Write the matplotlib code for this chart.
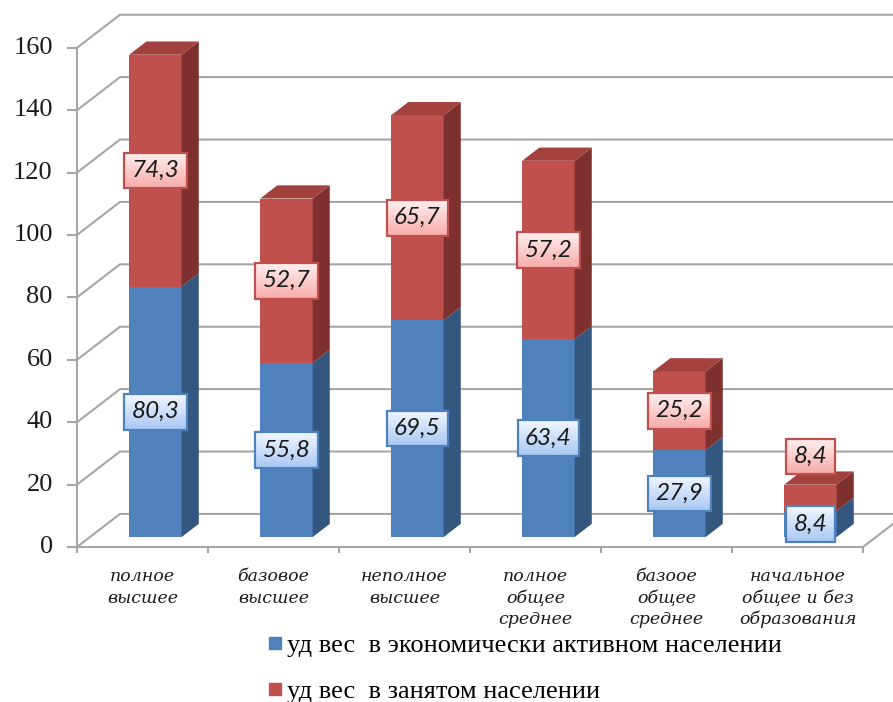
import numpy as np
import matplotlib
matplotlib.use("Agg")
import matplotlib.pyplot as plt
from matplotlib.patches import Polygon
from matplotlib.lines import Line2D
from matplotlib.colors import LinearSegmentedColormap

categories = [
    "полное\nвысшее",
    "базовое\nвысшее",
    "неполное\nвысшее",
    "полное\nобщее\nсреднее",
    "базоое\nобщее\nсреднее",
    "начальное\nобщее и без\nобразования",
]
active = [80.3, 55.8, 69.5, 63.4, 27.9, 8.4]      # уд вес в экономически активном населении
employed = [74.3, 52.7, 65.7, 57.2, 25.2, 8.4]    # уд вес в занятом населении
series_names = ["уд вес  в экономически активном населении",
                "уд вес  в занятом населении"]
yticks = [0, 20, 40, 60, 80, 100, 120, 140, 160]

SERIF = ["Liberation Serif", "Times New Roman", "DejaVu Serif"]

# pseudo-3d geometry (x in category units, y in value units)
DX, DY = 0.328, 10.6          # full depth of the floor / side wall
F0, F1 = 0.3, 0.7             # bar front / back depth fraction
BW = 0.4                      # bar width

blue, blue_side = "#4F81BD", "#34577F"
red, red_side, red_top = "#C0504D", "#7D302E", "#A3413E"
grid_c = "#A6A6A6"

fig = plt.figure(figsize=(8.93, 7.02), dpi=100)
ax = fig.add_axes([0, 0, 1, 1])
x0, x1 = -77 / 131, (893 - 77) / 131
y0, y1 = (547 - 702) / 3.12, 547 / 3.12
ax.set_xlim(x0, x1)
ax.set_ylim(y0, y1)
ax.axis("off")

n = len(categories)

# walls and gridlines
for v in yticks:
    ax.plot([0, DX, x1], [v, v + DY, v + DY], color=grid_c, lw=1.5, zorder=1)
    ax.plot([-0.065, 0], [v, v], color=grid_c, lw=1.5, zorder=1)
    ax.text(-0.185, v, str(v), ha="right", va="center",
            fontsize=19, family=SERIF, color="#1a1a1a")
ax.plot([0, 0], [0, 160], color=grid_c, lw=1.5, zorder=1)
# floor front edge, right edge and category ticks
ax.plot([0, n, n + DX], [0, 0, DY], color=grid_c, lw=1.5, zorder=1)
for i in range(n + 1):
    ax.plot([i, i], [0, -1.7], color=grid_c, lw=1.5, zorder=1)

xc = np.arange(n) + 0.5
xf = xc + F0 * DX
base = F0 * DY
dx_b, dy_b = (F1 - F0) * DX, (F1 - F0) * DY

ax.bar(xf, active, BW, bottom=base, color=blue, zorder=3)
ax.bar(xf, employed, BW, bottom=base + np.array(active), color=red, zorder=3)

for i in range(n):
    xr = xf[i] + BW / 2
    xl = xf[i] - BW / 2
    segs = [(0, active[i], blue_side),
            (active[i], active[i] + employed[i], red_side)]
    for lo, hi, side_c in segs:
        yb, yt = base + lo, base + hi
        ax.add_patch(Polygon([(xr, yb), (xr + dx_b, yb + dy_b),
                              (xr + dx_b, yt + dy_b), (xr, yt)],
                             closed=True, fc=side_c, ec="none", zorder=3))
    yt = base + active[i] + employed[i]
    ax.add_patch(Polygon([(xl, yt), (xl + dx_b, yt + dy_b),
                          (xr + dx_b, yt + dy_b), (xr, yt)],
                         closed=True, fc=red_top, ec="none", zorder=3))

# data labels
labels = []
for i in range(n):
    yb = base + active[i] / 2
    if i == n - 1:
        yr = base + active[i] + employed[i] + 9
    else:
        yr = base + active[i] + employed[i] / 2
    for val, y, ec, cols in [(active[i], yb, blue, ["#F2F7FF", "#A9C7F3"]),
                             (employed[i], yr, red, ["#FFF0F0", "#F7ABA9"])]:
        t = ax.text(xf[i], y, f"{val:.1f}".replace(".", ","), ha="center", va="center",
                    fontsize=17.5, family="Lato", style="italic", color="#1a1a1a",
                    zorder=6,
                    bbox=dict(boxstyle="square,pad=0.3", fc="white", ec=ec, lw=1.6))
        labels.append((t, cols))

# category labels
for i in range(n):
    ax.text(xc[i], -6.8, categories[i], ha="center", va="top", fontsize=12.5,
            family="DejaVu Serif", style="italic", linespacing=1.33, color="#1a1a1a")

# legend
handles = [Line2D([], [], marker="s", ls="none", ms=8, color=blue),
           Line2D([], [], marker="s", ls="none", ms=8, color=red)]
fig.legend(handles, series_names, loc="upper left", bbox_to_anchor=(0.287, 0.112),
           frameon=False, handlelength=0.6, handletextpad=0.15,
           labelspacing=0.85, borderaxespad=0,
           prop={"family": SERIF, "size": 19})

# gradient fill inside the label boxes
fig.canvas.draw()
inv = ax.transData.inverted()
grad = np.linspace(0, 1, 64).reshape(-1, 1)
for t, cols in labels:
    patch = t.get_bbox_patch()
    bb = patch.get_window_extent().transformed(inv)
    cmap = LinearSegmentedColormap.from_list("g", cols)
    ax.imshow(grad, extent=(bb.x0, bb.x1, bb.y0, bb.y1), origin="upper",
              cmap=cmap, aspect="auto", zorder=5.5, interpolation="bilinear")
    patch.set_facecolor("none")
ax.set_xlim(x0, x1)
ax.set_ylim(y0, y1)

fig.savefig("out.png", dpi=100)
